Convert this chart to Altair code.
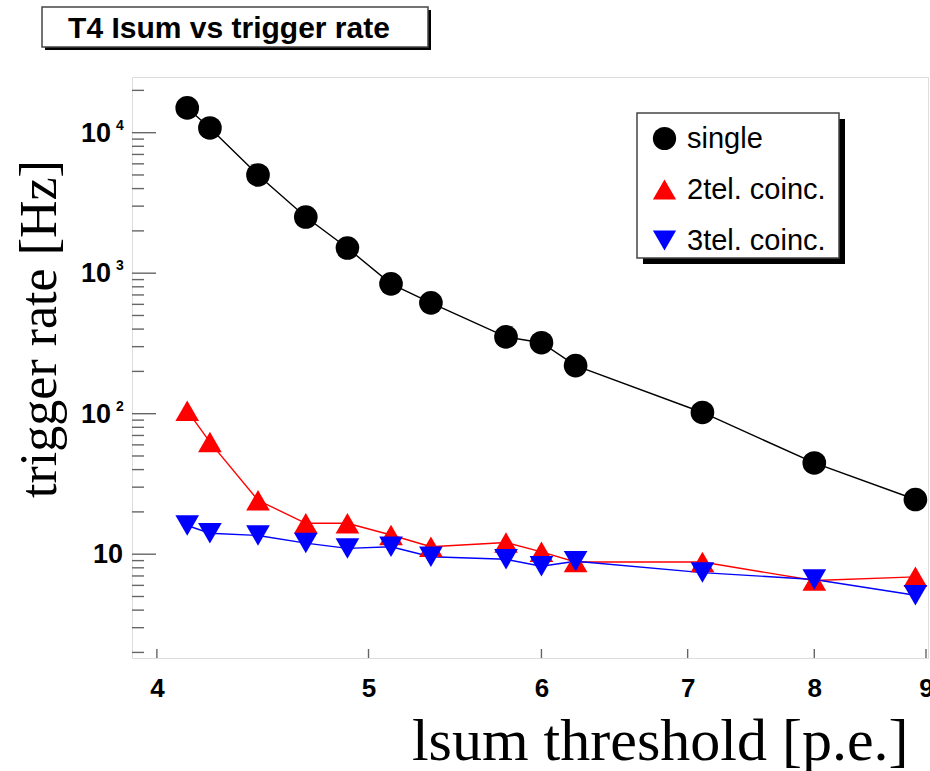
import altair as alt
import pandas as pd

# ---------------- data ----------------
thresholds = [4.13, 4.23, 4.45, 4.68, 4.89, 5.12, 5.34, 5.78, 6.0, 6.22, 7.11, 8.0, 8.9]
single = [15000, 10800, 5000, 2510, 1510, 840, 615, 352, 320, 220, 102, 44.6, 24.5]
tel2 = [105, 62.8, 24.2, 16.6, 16.6, 13.7, 11.3, 12.1, 10.4, 8.8, 8.8, 6.5, 6.9]
tel3 = [16.0, 14.1, 13.6, 12.0, 11.0, 11.3, 9.6, 9.2, 8.2, 8.9, 7.4, 6.6, 5.1]

series_names = ["single", "2tel. coinc.", "3tel. coinc."]
series_colors = ["#000000", "#ff0000", "#0000ff"]
series_shapes = ["circle", "triangle-up", "triangle-down"]

x_ticks = [4, 5, 6, 7, 8, 9]
y_major = [10, 100, 1000, 10000]
y_plain_values = [10]
y_exp_values = [100, 1000, 10000]
y_exp_labels = ["2", "3", "4"]
y_minor = [2, 3, 4, 5, 6, 7, 8, 9,
           20, 30, 40, 50, 60, 70, 80, 90,
           200, 300, 400, 500, 600, 700, 800, 900,
           2000, 3000, 4000, 5000, 6000, 7000, 8000, 9000, 20000]

title_text = "T4 Isum vs trigger rate"
x_title = "lsum threshold [p.e.]"
y_title = "trigger rate [Hz]"

rows = []
for name, vals in zip(series_names, [single, tel2, tel3]):
    for t, v in zip(thresholds, vals):
        rows.append({"threshold": t, "rate": v, "series": name})
df = pd.DataFrame(rows)

W, H = 796, 581
xscale = alt.Scale(type="log", domain=[3.8964, 9.019], nice=False, zero=False)
yscale = alt.Scale(type="log", domain=[1.825, 24900], nice=False)

color_scale = alt.Scale(domain=series_names, range=series_colors)
shape_scale = alt.Scale(domain=series_names, range=series_shapes)

legend = alt.Legend(
    title=None, orient="none", legendX=518, legendY=47, padding=0,
    labelFont="Liberation Sans", labelFontSize=29, labelColor="#000000",
    symbolSize=540, rowPadding=21, labelOffset=8, symbolStrokeWidth=0,
)

x_axis = alt.Axis(
    values=x_ticks, ticks=False, domain=False, grid=False,
    labelFont="Liberation Sans", labelFontWeight="bold", labelFontSize=26,
    labelColor="#000000", labelPadding=17, format="d",
    title=x_title, titleFont="Liberation Serif", titleFontSize=60,
    titleFontWeight="normal", titleColor="#000000",
    titleX=776, titleY=101, titleAlign="right", titleBaseline="alphabetic",
)
y_axis = alt.Axis(
    values=y_major, ticks=False, domain=False, grid=False, labels=False,
    title=y_title, titleFont="Liberation Serif", titleFontSize=52,
    titleFontWeight="normal", titleColor="#000000",
    titleX=-77, titleY=251.5, titleAngle=270, titleAlign="center",
    titleBaseline="alphabetic",
)

X = alt.X("threshold:Q", scale=xscale, axis=x_axis)
Y = alt.Y("rate:Q", scale=yscale, axis=y_axis)

base = alt.Chart(df)

points = base.mark_point(filled=True, size=560, opacity=1, strokeWidth=0).encode(
    x=X, y=Y,
    color=alt.Color("series:N", scale=color_scale, legend=legend),
    shape=alt.Shape("series:N", scale=shape_scale, legend=legend),
)

lines = base.mark_line(strokeWidth=1.4).encode(
    x=X, y=Y,
    color=alt.Color("series:N", scale=color_scale, legend=legend),
    detail="series:N",
)

tick_color = "#666666"
ymaj = alt.Chart(pd.DataFrame({"rate": y_major})).mark_rule(color=tick_color, strokeWidth=1.4).encode(
    y=Y, x=alt.value(0), x2=alt.value(24)
)
ymin = alt.Chart(pd.DataFrame({"rate": y_minor})).mark_rule(color=tick_color, strokeWidth=1.4).encode(
    y=Y, x=alt.value(0), x2=alt.value(12)
)
xtk = alt.Chart(pd.DataFrame({"threshold": x_ticks})).mark_rule(color=tick_color, strokeWidth=1.4).encode(
    x=X, y=alt.value(H), y2=alt.value(H - 9)
)

lab_style = dict(font="Liberation Sans", fontWeight="bold", color="#000000")
ylab_plain = alt.Chart(pd.DataFrame({"rate": y_plain_values})).mark_text(
    fontSize=27, align="right", baseline="middle", dy=1, **lab_style
).encode(y=Y, x=alt.value(-9), text=alt.value("10"))
ylab_base = alt.Chart(pd.DataFrame({"rate": y_exp_values})).mark_text(
    fontSize=27, align="right", baseline="middle", dy=1, **lab_style
).encode(y=Y, x=alt.value(-21), text=alt.value("10"))
ylab_exp = alt.Chart(pd.DataFrame({"rate": y_exp_values, "e": y_exp_labels})).mark_text(
    fontSize=14, align="left", baseline="alphabetic", dy=-3, **lab_style
).encode(y=Y, x=alt.value(-16), text="e:N")

one = pd.DataFrame({"label": [title_text]})
title_shadow = alt.Chart(one).mark_rect(color="#000000").encode(
    x=alt.value(-87), x2=alt.value(299), y=alt.value(-67), y2=alt.value(-27)
)
title_box = alt.Chart(one).mark_rect(fill="#ffffff", stroke="#444444", strokeWidth=1.5).encode(
    x=alt.value(-90), x2=alt.value(296), y=alt.value(-70), y2=alt.value(-30)
)
title_txt = alt.Chart(one).mark_text(
    font="Liberation Sans", fontWeight="bold", fontSize=30, align="center",
    baseline="alphabetic", color="#000000"
).encode(x=alt.value(97), y=alt.value(-39), text="label:N")

leg_shadow = alt.Chart(one).mark_rect(color="#000000").encode(
    x=alt.value(511), x2=alt.value(713), y=alt.value(42), y2=alt.value(187)
)
leg_box = alt.Chart(one).mark_rect(fill="#ffffff", stroke="#444444", strokeWidth=1.5).encode(
    x=alt.value(505), x2=alt.value(707), y=alt.value(36), y2=alt.value(181)
)

chart = alt.layer(
    leg_shadow, leg_box, ymin, ymaj, xtk, ylab_plain, ylab_base, ylab_exp,
    lines, points, title_shadow, title_box, title_txt,
).properties(
    width=W, height=H,
    autosize=alt.AutoSizeParams(type="none"),
    padding={"left": 132, "top": 77, "right": 2, "bottom": 113},
).configure_view(
    stroke="#444444", strokeWidth=2
).configure(background="#ffffff")

chart.save("out.html", embed_options={"renderer": "svg", "actions": False})
